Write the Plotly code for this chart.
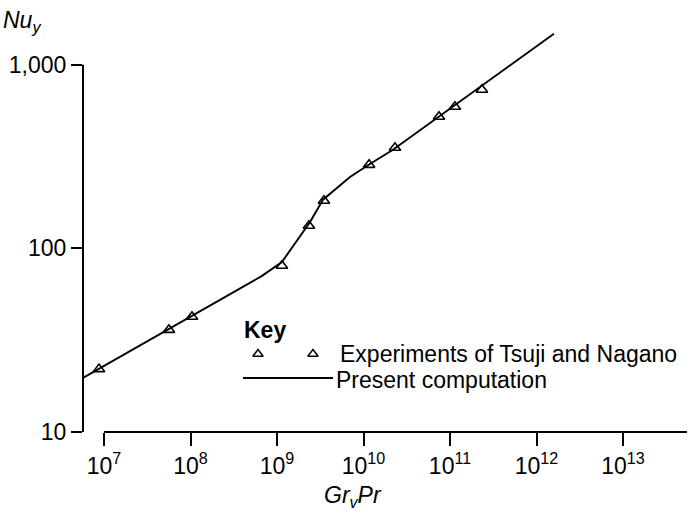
import math
import plotly.graph_objects as go

# ---- data ----
exp_x = [8.75e6, 5.63e7, 1.04e8, 1.14e9, 2.34e9, 3.49e9, 1.16e10, 2.31e10, 7.46e10, 1.14e11, 2.34e11]
exp_nu = [22.0, 36.0, 42.4, 80.4, 132.8, 181.6, 285, 353, 521, 590, 731]

comp_x = [5.71e6, 3.40e7, 3.73e8, 6.71e8, 1.14e9, 2.41e9, 3.40e9, 6.98e9, 1.10e10, 2.19e10, 1.59e12]
comp_nu = [19.7, 31.7, 60.1, 70.8, 84.3, 139, 184, 245, 282, 344, 1476]

x_tickvals = [1e7, 1e8, 1e9, 1e10, 1e11, 1e12, 1e13]
x_ticktext = ["10<sup>7</sup>", "10<sup>8</sup>", "10<sup>9</sup>", "10<sup>10</sup>",
              "10<sup>11</sup>", "10<sup>12</sup>", "10<sup>13</sup>"]
y_tickvals = [10, 100, 1000]
y_ticktext = ["10", "100", "1,000"]

legend_labels = ["Experiments of Tsuji and Nagano", "Present computation"]

# ---- layout geometry ----
W, H = 689, 511
ML, MR, MT, MB = 83, 2, 28, 79
PW, PH = W - ML - MR, H - MT - MB
x_range = [6.757, 13.74]
y_range = [1.0, 3.2]


def px(xp):
    return (xp - ML) / PW


def py(yp):
    return (H - MB - yp) / PH


FONT = "Liberation Sans, Arial, Helvetica, sans-serif"
BLACK = "#000000"

fig = go.Figure()

fig.add_trace(go.Scatter(
    x=comp_x, y=comp_nu, mode="lines",
    line=dict(color=BLACK, width=1.9), showlegend=False, hoverinfo="skip"))

fig.add_trace(go.Scatter(
    x=exp_x, y=exp_nu, mode="markers",
    marker=dict(symbol="triangle-up-open", size=10, color=BLACK,
                line=dict(color=BLACK, width=1.6)),
    showlegend=False))

# legend key triangles on an auxiliary unit axis pair
fig.add_trace(go.Scatter(
    x=[px(258), px(313)], y=[py(354), py(354)], mode="markers",
    xaxis="x2", yaxis="y2",
    marker=dict(symbol="triangle-up-open", size=9, color=BLACK,
                line=dict(color=BLACK, width=1.5)),
    showlegend=False, hoverinfo="skip"))

shapes = [
    # y axis line: from 10 to 1,000
    dict(type="line", xref="paper", yref="y", x0=0, x1=0, y0=10, y1=1000,
         line=dict(color=BLACK, width=2)),
    # x axis line: from 10^7 to the right edge
    dict(type="line", xref="x", yref="paper", x0=1e7, x1=10 ** x_range[1], y0=0, y1=0,
         line=dict(color=BLACK, width=2)),
    # legend line
    dict(type="line", xref="paper", yref="paper", x0=px(243), x1=px(333),
         y0=py(378), y1=py(378), line=dict(color=BLACK, width=1.9)),
]

annotations = [
    dict(text="<b>Key</b>", xref="paper", yref="paper", x=px(242), y=py(330),
         xanchor="left", yanchor="middle", showarrow=False,
         font=dict(family=FONT, size=23, color=BLACK)),
    dict(text=legend_labels[0], xref="paper", yref="paper", x=px(338), y=py(354),
         xanchor="left", yanchor="middle", showarrow=False,
         font=dict(family=FONT, size=23, color=BLACK)),
    dict(text=legend_labels[1], xref="paper", yref="paper", x=px(334), y=py(380),
         xanchor="left", yanchor="middle", showarrow=False,
         font=dict(family=FONT, size=23, color=BLACK)),
    dict(text="<i>Nu</i><sub><i>y</i></sub>", xref="paper", yref="paper",
         x=px(1), y=py(22), xanchor="left", yanchor="middle", showarrow=False,
         font=dict(family=FONT, size=23, color=BLACK)),
    dict(text="<i>Gr</i><sub><i>v</i></sub><i>Pr</i>", xref="paper", yref="paper",
         x=px(353), y=py(497), xanchor="center", yanchor="middle", showarrow=False,
         font=dict(family=FONT, size=23, color=BLACK)),
]

fig.update_layout(
    width=W, height=H,
    margin=dict(l=ML, r=MR, t=MT, b=MB, pad=0),
    paper_bgcolor="white", plot_bgcolor="white",
    font=dict(family=FONT, size=23, color=BLACK),
    showlegend=False,
    xaxis=dict(type="log", range=x_range, showgrid=False, zeroline=False,
               showline=False, ticks="outside", ticklen=13, tickwidth=1.5,
               tickcolor=BLACK, tickvals=x_tickvals, ticktext=x_ticktext,
               tickfont=dict(family=FONT, size=23, color=BLACK)),
    yaxis=dict(type="log", range=y_range, showgrid=False, zeroline=False,
               showline=False, ticks="outside", ticklen=11, tickwidth=1.5,
               tickcolor=BLACK, tickvals=y_tickvals, ticktext=y_ticktext,
               tickfont=dict(family=FONT, size=23, color=BLACK)),
    xaxis2=dict(overlaying="x", range=[0, 1], visible=False),
    yaxis2=dict(overlaying="y", range=[0, 1], visible=False),
    shapes=shapes,
    annotations=annotations,
)

fig.write_html("out.html")
